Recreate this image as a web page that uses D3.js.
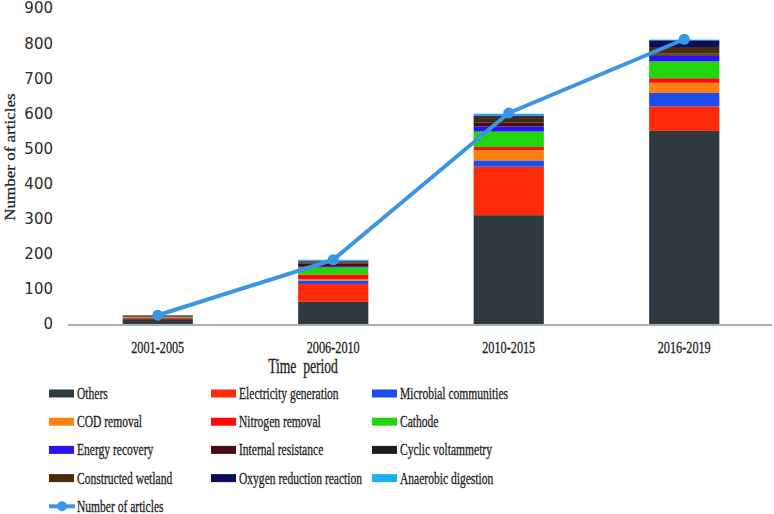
<!DOCTYPE html>
<html><head><meta charset="utf-8">
<script src="https://cdn.jsdelivr.net/npm/d3@7"></script>
<style>body{margin:0;background:#fff}svg{display:block}</style>
</head><body><svg id="c" width="774" height="514"></svg>
<script>
const periods = ["2001-2005","2006-2010","2010-2015","2016-2019"];
const seriesNames = ["Others","Electricity generation","Microbial communities","COD removal","Nitrogen removal","Cathode","Energy recovery","Internal resistance","Cyclic voltammetry","Constructed wetland","Oxygen reduction reaction","Anaerobic digestion"];
const others = [14, 63, 310, 550];
const electricity = [3, 51, 138, 70];
const microbial = [1, 10, 18, 38];
const cod = [0, 4, 29, 29];
const nitrogen = [1, 13, 9, 13];
const cathode = [2, 20, 44, 48];
const energy = [0, 2, 15, 16];
const internalRes = [2, 9, 11, 3];
const cyclic = [1, 3, 4, 3];
const wetland = [1, 3, 12, 19];
const orr = [0, 2, 4, 19];
const anaerobic = [0, 3, 5, 2];
const articles = [25, 183, 601, 811];
const yTicks = [0,100,200,300,400,500,600,700,800,900];
const colors = ["#2e3a40","#fd2a0c","#1a4cf0","#fb8112","#ff0a0a","#22d60e","#2a15f0","#4a0c0c","#1a1f20","#4a2c0c","#0a0f5a","#1ab0f5"];
const lineColor = "#3a95e6";

const seriesVals = [others,electricity,microbial,cod,nitrogen,cathode,energy,internalRes,cyclic,wetland,orr,anaerobic];
const table = periods.map((p,i)=>{const o={period:p}; seriesNames.forEach((s,j)=>o[s]=seriesVals[j][i]); return o;});
const stack = d3.stack().keys(seriesNames)(table);

const svg = d3.select("#c");
const x = d3.scaleBand().domain(periods).range([70,772]).paddingInner(0.6).paddingOuter(0.3);
const y = d3.scaleLinear().domain([0,900]).range([324,8]);

// y tick labels
svg.append("g").selectAll("text").data(yTicks).join("text")
  .attr("x",53).attr("y",d=>y(d)).attr("dy","0.36em").attr("text-anchor","end")
  .attr("font-family","DejaVu Sans, Verdana, sans-serif").attr("font-size",15).attr("fill","#2a2a2a")
  .text(d=>d);

// bars
svg.append("g").selectAll("g").data(stack).join("g").attr("fill",(d,i)=>colors[i])
  .selectAll("rect").data(d=>d).join("rect")
  .attr("x",d=>x(d.data.period)).attr("width",x.bandwidth())
  .attr("y",d=>y(d[1])).attr("height",d=>y(d[0])-y(d[1]));

// x axis line
svg.append("line").attr("x1",68).attr("x2",772).attr("y1",y(0)+1).attr("y2",y(0)+1)
  .attr("stroke","#a6b0b0").attr("stroke-width",2);

// line series
const cx = p=>x(p)+x.bandwidth()/2;
svg.append("path").datum(articles)
  .attr("d",d3.line().x((d,i)=>cx(periods[i])).y(d=>y(d)))
  .attr("fill","none").attr("stroke",lineColor).attr("stroke-width",4).attr("stroke-linejoin","round");
svg.append("g").selectAll("circle").data(articles).join("circle")
  .attr("cx",(d,i)=>cx(periods[i])).attr("cy",d=>y(d)).attr("r",5.5).attr("fill",lineColor);

const serif = "Liberation Serif, Times New Roman, serif";
const txt = "#222";
// category labels
svg.append("g").selectAll("text").data(periods).join("text")
  .attr("transform",d=>`translate(${cx(d)},352.5) scale(0.72,1)`).attr("text-anchor","middle")
  .attr("font-family",serif).attr("font-size",17).attr("fill",txt)
  .attr("stroke",txt).attr("stroke-width",0.3).text(d=>d);
// x title
svg.append("text").attr("transform","translate(303,373) scale(0.68,1)").attr("text-anchor","middle")
  .style("white-space","pre")
  .attr("font-family",serif).attr("font-size",20).attr("fill",txt)
  .attr("stroke",txt).attr("stroke-width",0.3).text("Time  period");
// y title
svg.append("text").attr("transform","translate(15,157) scale(0.8,1) rotate(-90)").attr("text-anchor","middle")
  .attr("font-family",serif).attr("font-size",17).attr("fill",txt)
  .attr("stroke",txt).attr("stroke-width",0.3).text("Number of articles");

// legend
const colX = [49,211,372];
const rowY = [393.5,421.7,449.9,478.1,506.3];
const lg = svg.append("g");
seriesNames.forEach((s,i)=>{
  const cxl = colX[i%3], cy = rowY[Math.floor(i/3)];
  lg.append("rect").attr("x",cxl).attr("y",cy-4).attr("width",25).attr("height",8).attr("fill",colors[i]);
  lg.append("text").attr("transform",`translate(${cxl+28},${cy+5.5}) scale(0.66,1)`)
    .attr("font-family",serif).attr("font-size",17.5).attr("fill",txt)
    .attr("stroke",txt).attr("stroke-width",0.3).text(s);
});
const ly = rowY[4];
lg.append("line").attr("x1",49).attr("x2",75).attr("y1",ly).attr("y2",ly).attr("stroke",lineColor).attr("stroke-width",4);
lg.append("circle").attr("cx",62).attr("cy",ly).attr("r",5).attr("fill",lineColor);
lg.append("text").attr("transform",`translate(77,${ly+5.5}) scale(0.66,1)`)
  .attr("font-family",serif).attr("font-size",17.5).attr("fill",txt)
  .attr("stroke",txt).attr("stroke-width",0.3).text("Number of articles");
</script></body></html>
